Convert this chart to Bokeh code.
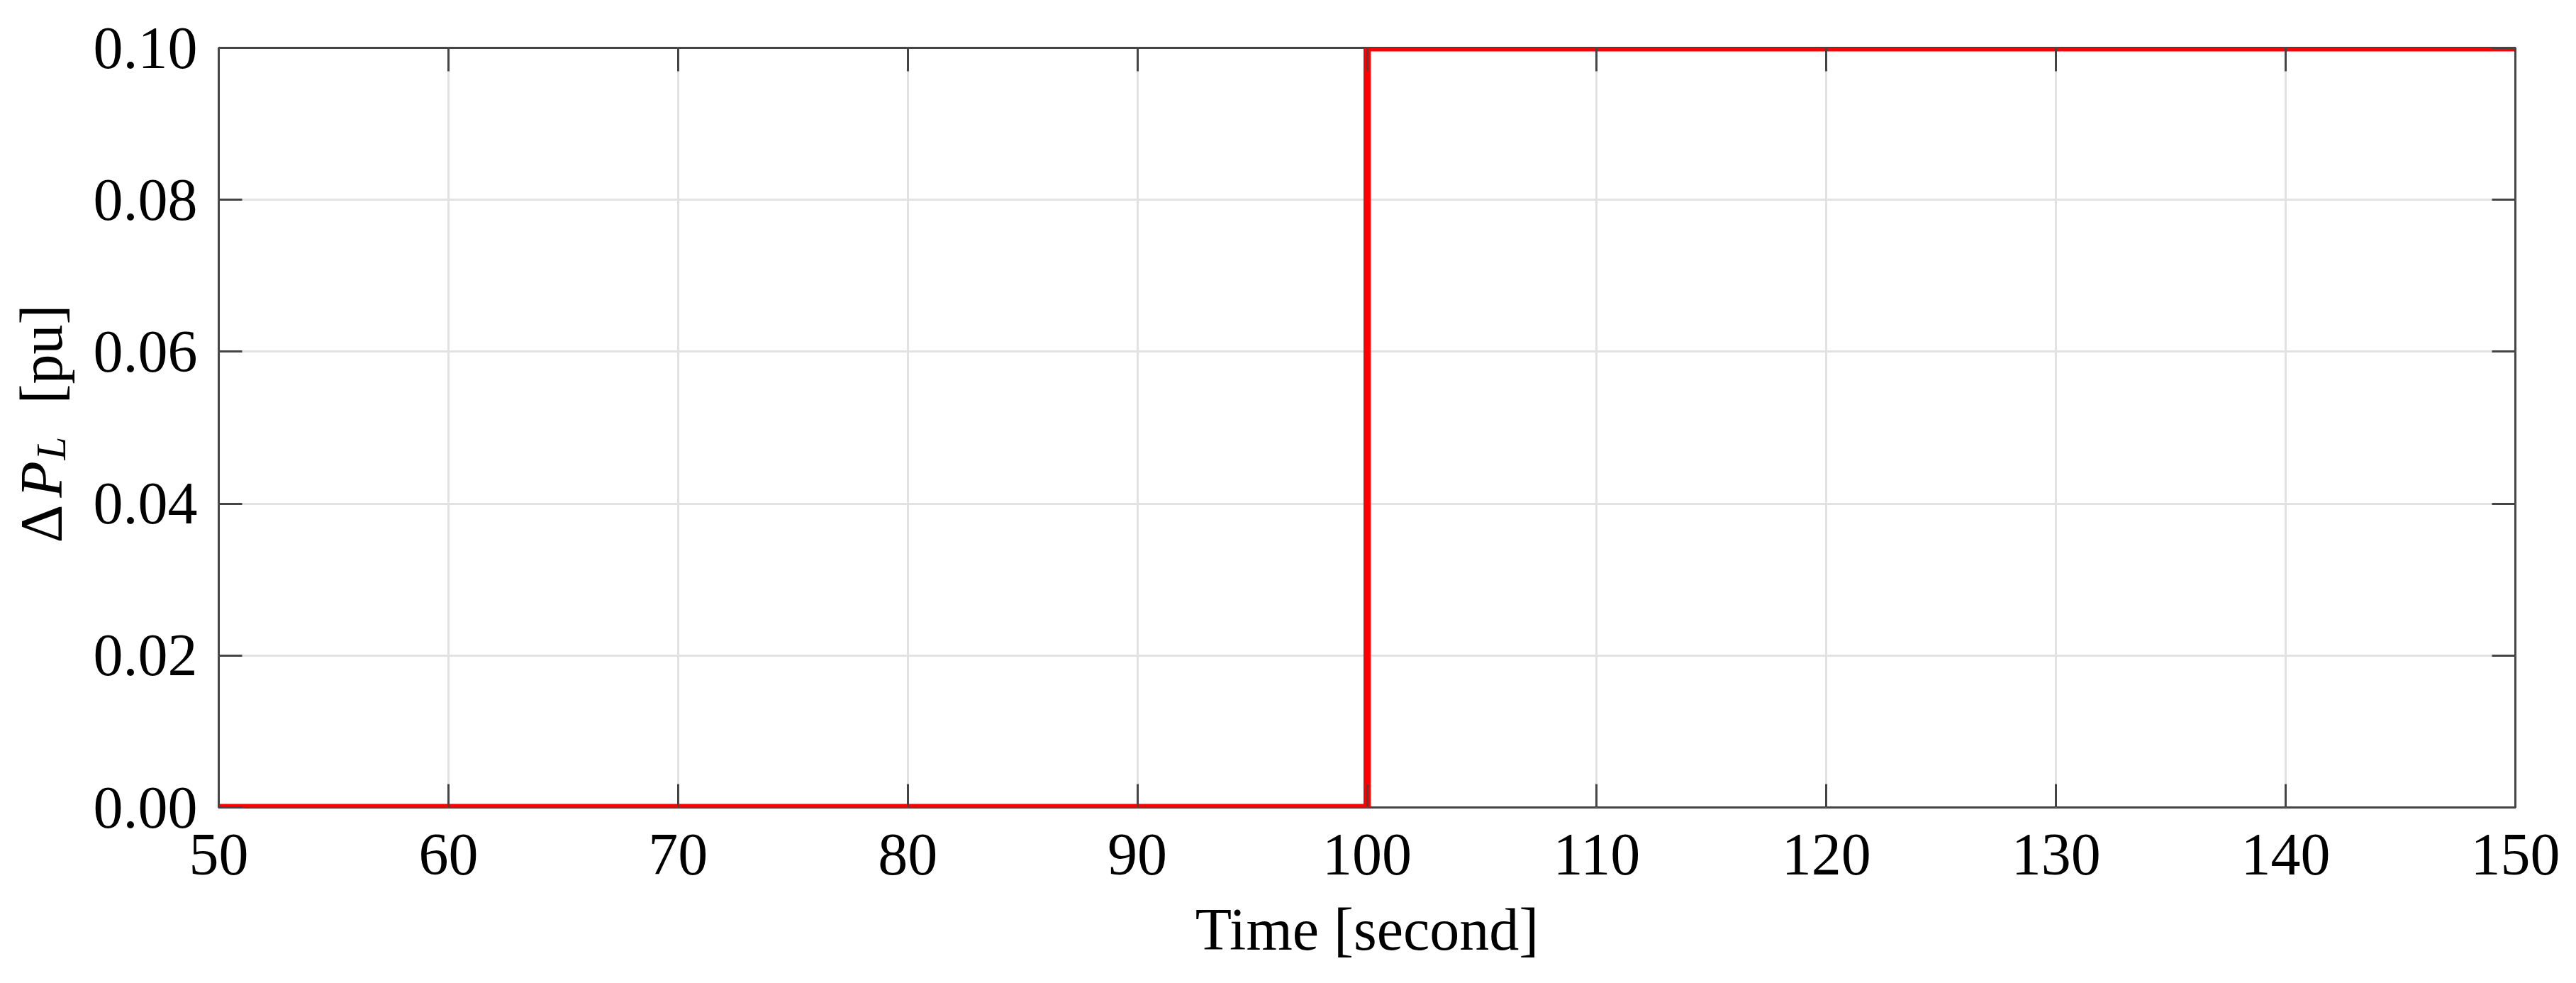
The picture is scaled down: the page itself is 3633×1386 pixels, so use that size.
import math
from bokeh.plotting import figure
from bokeh.layouts import row
from bokeh.models import Range1d, LinearAxis, FixedTicker, PrintfTickFormatter
from bokeh.core.properties import value
from bokeh.embed import file_html
from bokeh.resources import INLINE

# data
time_s = [50, 100, 100, 150]
delta_pl = [0.0, 0.0, 0.1, 0.1]
x_ticks = [50, 60, 70, 80, 90, 100, 110, 120, 130, 140, 150]
y_ticks = [0.0, 0.02, 0.04, 0.06, 0.08, 0.10]
ylabel_parts = ["\u0394", "P", "L", "[pu]"]

FONT = "Liberation Serif"
FS = "84px"
FRAME = "#444444"
TOTAL_W, TOTAL_H = 3617, 1370
B_TOP, B_BOTTOM = 67, 232
FRAME_H = TOTAL_H - B_TOP - B_BOTTOM
LW = 120  # width of the side strip that holds the y-axis title

# --- side strip for the composite y-axis title (pixel coordinates within frame) ---
lf = figure(width=LW, height=TOTAL_H, output_backend="svg", toolbar_location=None,
            x_range=Range1d(0, LW), y_range=Range1d(0, FRAME_H),
            x_axis_location=None, y_axis_location=None,
            min_border_left=0, min_border_right=0, min_border_top=B_TOP, min_border_bottom=B_BOTTOM)
lf.outline_line_color = None
lf.xgrid.visible = False
lf.ygrid.visible = False
lf.background_fill_color = "white"
lf.border_fill_color = "white"

# baseline x, start position measured up from the frame bottom, size, style
layout_specs = [
    (58, 373, "84px", "normal"),
    (58, 437, "84px", "italic"),
    (71, 490, "59px", "italic"),
    (58, 569, "84px", "normal"),
]
for txt, (bx, by, size, style) in zip(ylabel_parts, layout_specs):
    lf.text(x=[bx], y=[by], text=[txt], angle=math.pi / 2,
            text_font=value(FONT), text_font_size=size, text_font_style=style,
            text_color="black", text_align="left", text_baseline="alphabetic")

# --- main plot ---
p = figure(width=TOTAL_W - LW, height=TOTAL_H, output_backend="svg", toolbar_location=None,
           x_range=Range1d(50, 150), y_range=Range1d(0, 0.1),
           min_border_left=308 - LW, min_border_right=70, min_border_top=B_TOP, min_border_bottom=B_BOTTOM)

p.background_fill_color = "white"
p.border_fill_color = "white"
p.outline_line_color = FRAME
p.outline_line_width = 3

for g in (p.xgrid, p.ygrid):
    g.grid_line_color = "#e2e2e2"
    g.grid_line_width = 3
p.xgrid.ticker = FixedTicker(ticks=x_ticks)
p.ygrid.ticker = FixedTicker(ticks=y_ticks)

p.line(time_s, delta_pl, line_color="#ff0000", line_width=10)

def style_axis(ax, show_labels=True):
    ax.axis_line_color = None
    ax.major_tick_in = 33
    ax.major_tick_out = 0
    ax.major_tick_line_color = FRAME
    ax.major_tick_line_width = 3
    ax.minor_tick_line_color = None
    ax.major_label_text_font = FONT
    ax.major_label_text_font_size = FS
    ax.major_label_text_color = "black"
    ax.axis_label_text_font = FONT
    ax.axis_label_text_font_size = FS
    ax.axis_label_text_font_style = "normal"
    ax.axis_label_text_color = "black"
    if not show_labels:
        ax.major_label_text_font_size = "0px"
        ax.major_label_text_color = None

xa = p.xaxis[0]
xa.ticker = FixedTicker(ticks=x_ticks)
style_axis(xa)
xa.major_label_standoff = 38
xa.axis_label = "Time [second]"
xa.axis_label_standoff = 28

ya = p.yaxis[0]
ya.ticker = FixedTicker(ticks=y_ticks)
ya.formatter = PrintfTickFormatter(format="%.2f")
style_axis(ya)
ya.major_label_standoff = 30

top = LinearAxis(ticker=FixedTicker(ticks=x_ticks))
style_axis(top, False)
p.add_layout(top, "above")
right = LinearAxis(ticker=FixedTicker(ticks=y_ticks))
style_axis(right, False)
p.add_layout(right, "right")

layout = row(lf, p, spacing=0)
open("out.html", "w").write(file_html(layout, INLINE))
